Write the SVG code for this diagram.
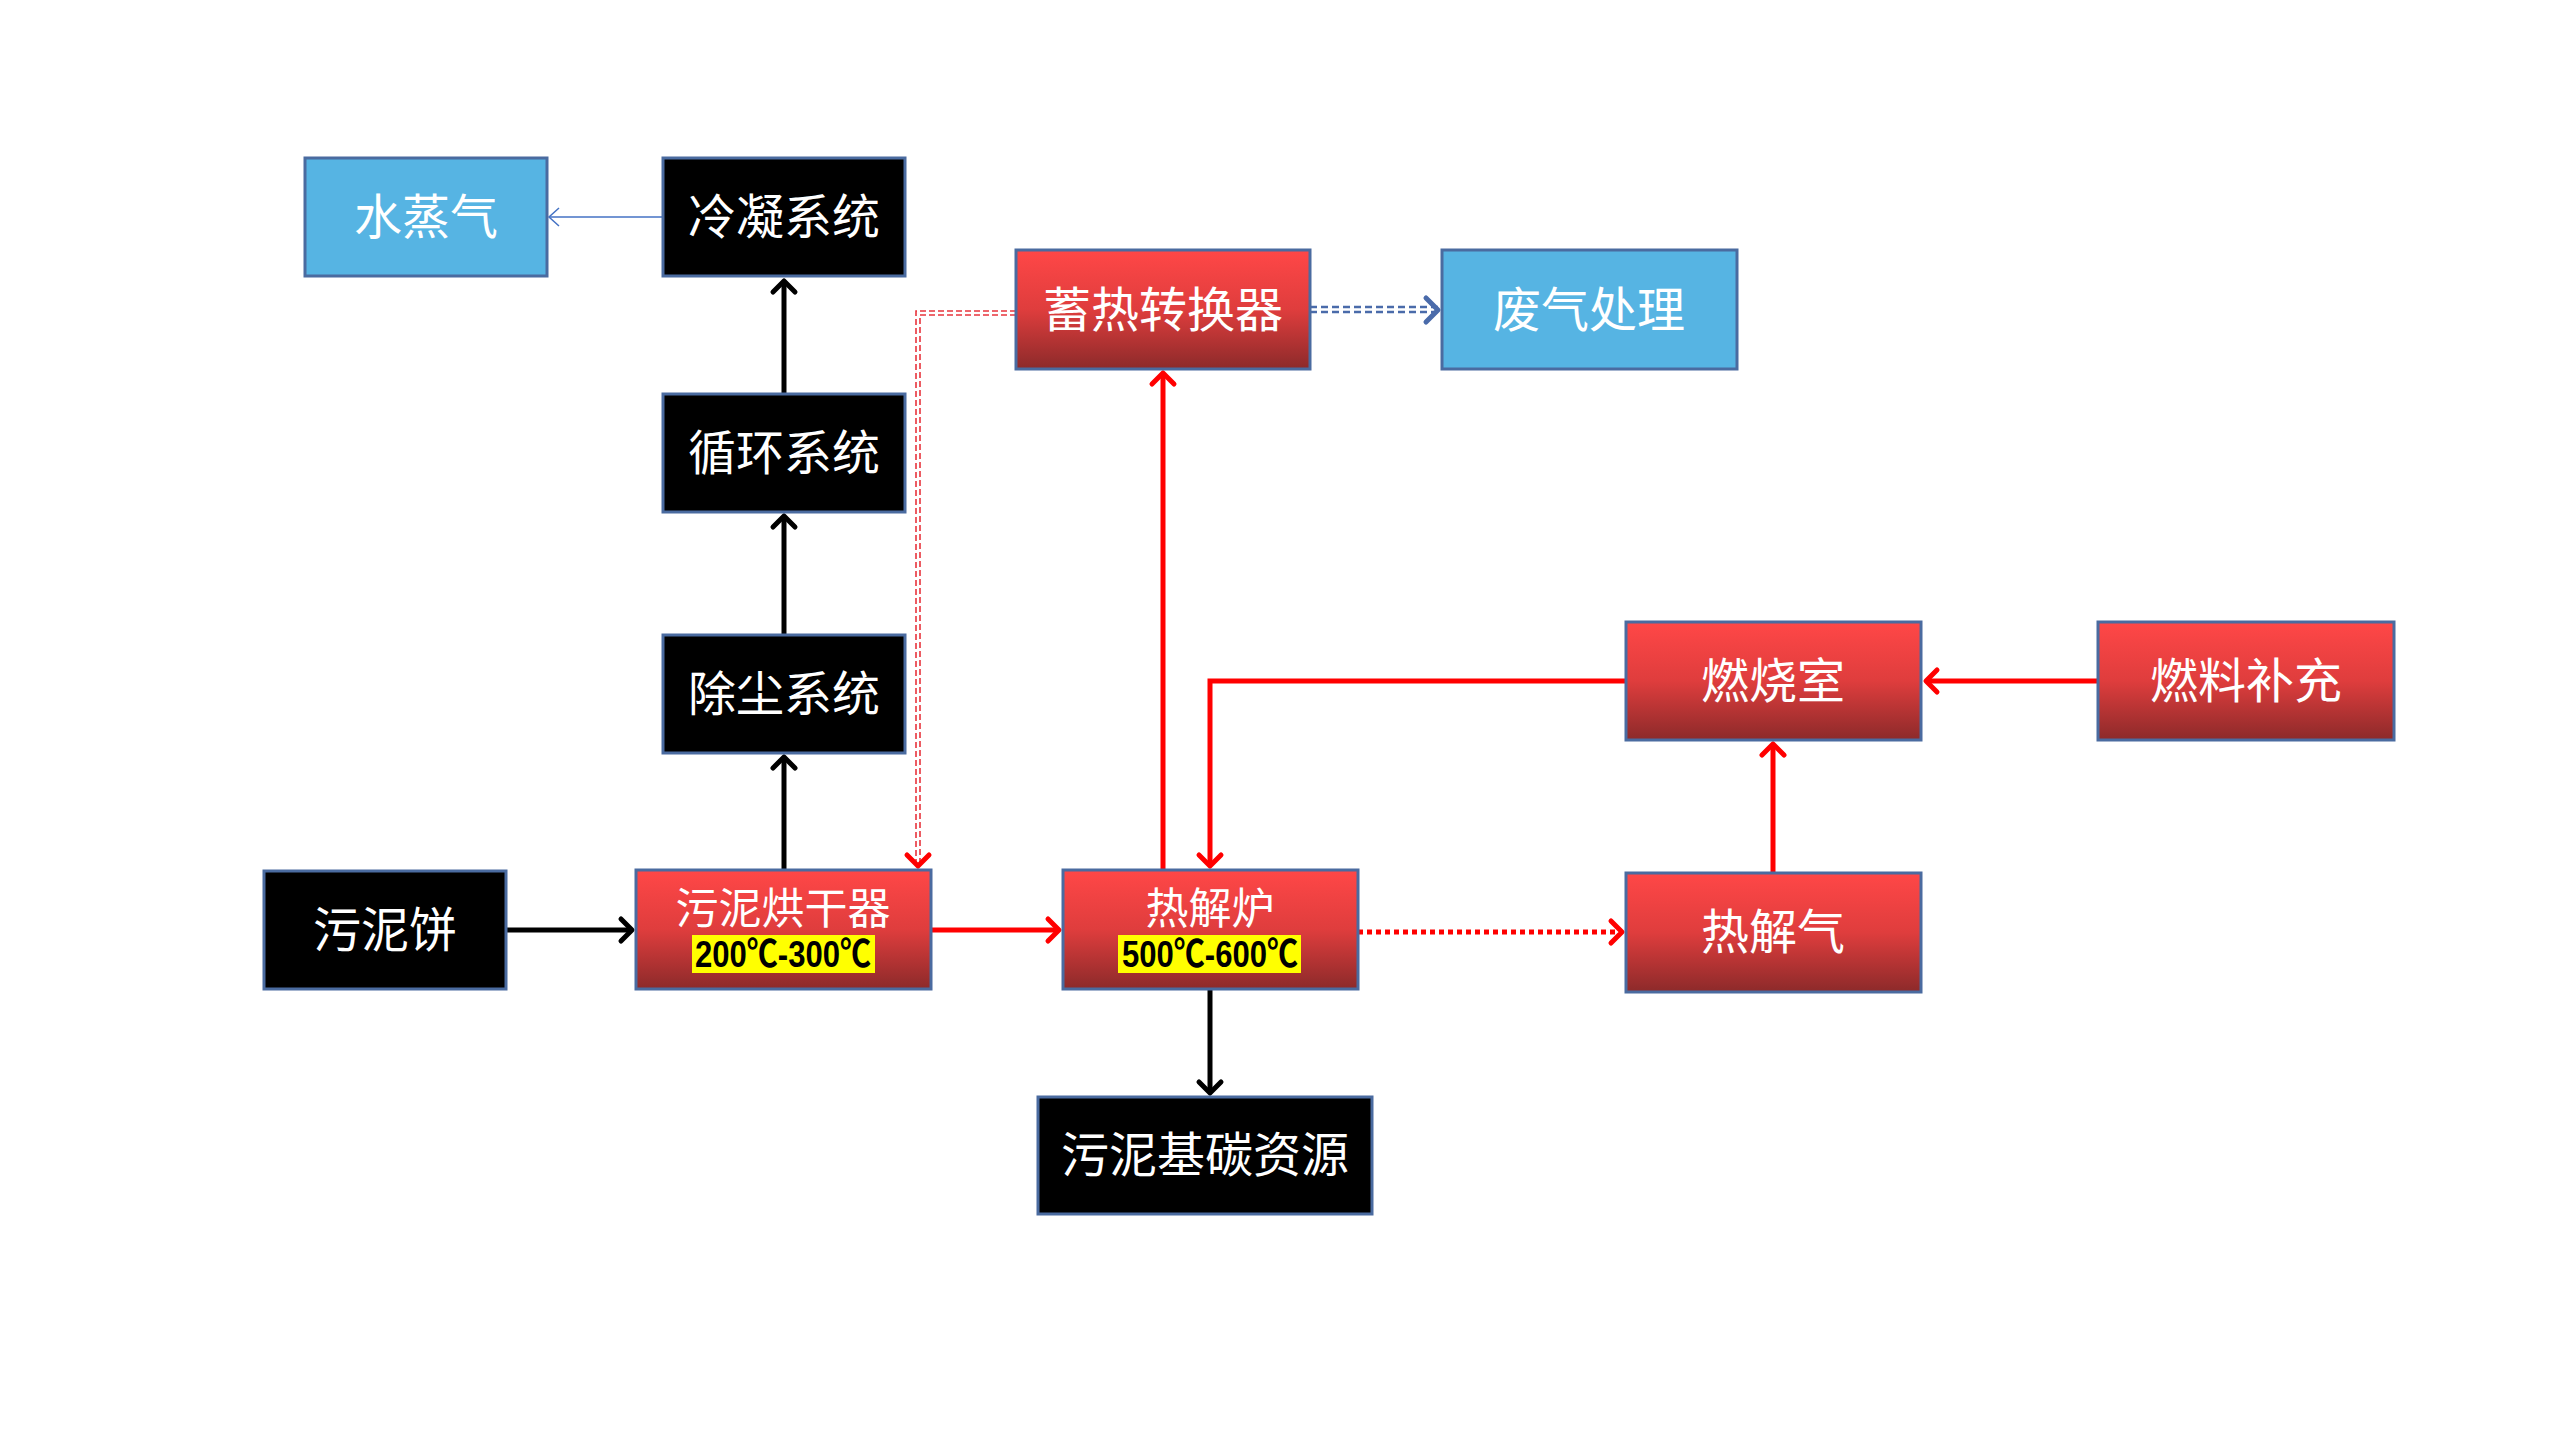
<svg xmlns="http://www.w3.org/2000/svg" width="2560" height="1440" viewBox="0 0 2560 1440">
<style>
.box{stroke:#4A6BA0;stroke-width:3}
.blk{fill:#000}
.blu{fill:#56B4E3}
.red{fill:url(#redGrad)}
.t{font-family:"Noto Sans CJK SC","Noto Sans CJK TC",sans-serif;font-size:48px;fill:#fff;text-anchor:middle}
.ts{font-size:43px}
.tmp{font-family:"Liberation Sans","Noto Sans CJK SC",sans-serif;font-weight:bold;font-size:37px;fill:#000;text-anchor:middle}
.yel{fill:#FFFF00}
.lb{fill:none;stroke:#000;stroke-width:5}
.lr{fill:none;stroke:#FF0000;stroke-width:5}
.lrd{fill:none;stroke:#FF0000;stroke-width:5;stroke-dasharray:5 4}
.lrt{fill:none;stroke:#E8343C;stroke-width:1.6;stroke-dasharray:6 3}
.lbt{fill:none;stroke:#4472C4;stroke-width:1.5}
.lbd{fill:none;stroke:#4A6BAA;stroke-width:2.5;stroke-dasharray:7 4}
</style>
<defs>
<linearGradient id="redGrad" x1="0" y1="0" x2="0" y2="1">
<stop offset="0" stop-color="#FF4747"/>
<stop offset="0.5" stop-color="#DF3D3D"/>
<stop offset="1" stop-color="#8C2A2A"/>
</linearGradient>
<marker id="aBlk" markerUnits="userSpaceOnUse" markerWidth="40" markerHeight="40" refX="0" refY="0" viewBox="-20 -20 40 40" orient="auto" overflow="visible">
<path d="M-11,-11 L0,0 L-11,11" fill="none" stroke="#000" stroke-width="5" stroke-linecap="round" stroke-linejoin="round"/>
</marker>
<marker id="aRed" markerUnits="userSpaceOnUse" markerWidth="40" markerHeight="40" refX="0" refY="0" viewBox="-20 -20 40 40" orient="auto" overflow="visible">
<path d="M-11,-11 L0,0 L-11,11" fill="none" stroke="#FF0000" stroke-width="5" stroke-linecap="round" stroke-linejoin="round"/>
</marker>
<marker id="aBluT" markerUnits="userSpaceOnUse" markerWidth="40" markerHeight="40" refX="0" refY="0" viewBox="-20 -20 40 40" orient="auto" overflow="visible">
<path d="M-10,-9 L0,0 L-10,9" fill="none" stroke="#4472C4" stroke-width="1.5"/>
</marker>
<marker id="aBluD" markerUnits="userSpaceOnUse" markerWidth="40" markerHeight="40" refX="0" refY="0" viewBox="-20 -20 40 40" orient="auto" overflow="visible">
<path d="M-12,-12 L0,0 L-12,12" fill="none" stroke="#4A6BAA" stroke-width="5" stroke-linecap="round" stroke-linejoin="round"/>
</marker>
</defs>
<rect width="2560" height="1440" fill="#fff"/>
<g id="connectors">
<line class="lbt" x1="663" y1="217" x2="549" y2="217" marker-end="url(#aBluT)"/>
<line class="lb" x1="784" y1="394" x2="784" y2="281" marker-end="url(#aBlk)"/>
<line class="lb" x1="784" y1="635" x2="784" y2="516" marker-end="url(#aBlk)"/>
<line class="lb" x1="784" y1="870" x2="784" y2="757" marker-end="url(#aBlk)"/>
<line class="lb" x1="506" y1="930" x2="632" y2="930" marker-end="url(#aBlk)"/>
<line class="lr" x1="931" y1="930" x2="1059" y2="930" marker-end="url(#aRed)"/>
<line class="lr" x1="1163" y1="870" x2="1163" y2="373" marker-end="url(#aRed)"/>
<polyline class="lr" points="1626,681 1210,681 1210,866" marker-end="url(#aRed)"/>
<line class="lr" x1="2098" y1="681" x2="1926" y2="681" marker-end="url(#aRed)"/>
<line class="lr" x1="1773" y1="873" x2="1773" y2="744" marker-end="url(#aRed)"/>
<line class="lrd" x1="1358" y1="932" x2="1622" y2="932" marker-end="url(#aRed)"/>
<polyline class="lrt" points="1016,311 916,311 916,866"/>
<polyline class="lrt" points="1016,315 920,315 920,866"/>
<line x1="918" y1="860" x2="918" y2="866" stroke="none" marker-end="url(#aRed)"/>
<line class="lbd" x1="1310" y1="307" x2="1438" y2="307"/>
<line class="lbd" x1="1310" y1="312" x2="1438" y2="312"/>
<line x1="1430" y1="310" x2="1438" y2="310" stroke="none" marker-end="url(#aBluD)"/>
<line class="lb" x1="1210" y1="989" x2="1210" y2="1093" marker-end="url(#aBlk)"/>
</g>
<g id="n-water"><rect class="box blu" x="305" y="158" width="242" height="118"/><text class="t" x="426" y="234">水蒸气</text></g>
<g id="n-condense"><rect class="box blk" x="663" y="158" width="242" height="118"/><text class="t" x="784" y="234">冷凝系统</text></g>
<g id="n-circ"><rect class="box blk" x="663" y="394" width="242" height="118"/><text class="t" x="784" y="470">循环系统</text></g>
<g id="n-dust"><rect class="box blk" x="663" y="635" width="242" height="118"/><text class="t" x="784" y="711">除尘系统</text></g>
<g id="n-cake"><rect class="box blk" x="264" y="871" width="242" height="118"/><text class="t" x="385" y="947">污泥饼</text></g>
<g id="n-dryer"><rect class="box red" x="636" y="870" width="295" height="119"/><text class="t ts" x="783" y="924">污泥烘干器</text><rect class="yel" x="692" y="935" width="183" height="38"/><text class="tmp" x="783" y="967" textLength="176" lengthAdjust="spacingAndGlyphs">200℃-300℃</text></g>
<g id="n-pyro"><rect class="box red" x="1063" y="870" width="295" height="119"/><text class="t ts" x="1210" y="924">热解炉</text><rect class="yel" x="1118" y="935" width="183" height="38"/><text class="tmp" x="1210" y="967" textLength="176" lengthAdjust="spacingAndGlyphs">500℃-600℃</text></g>
<g id="n-pgas"><rect class="box red" x="1626" y="873" width="295" height="119"/><text class="t" x="1773" y="949">热解气</text></g>
<g id="n-comb"><rect class="box red" x="1626" y="622" width="295" height="118"/><text class="t" x="1773" y="698">燃烧室</text></g>
<g id="n-fuel"><rect class="box red" x="2098" y="622" width="296" height="118"/><text class="t" x="2246" y="698">燃料补充</text></g>
<g id="n-regen"><rect class="box red" x="1016" y="250" width="294" height="119"/><text class="t" x="1163" y="327">蓄热转换器</text></g>
<g id="n-exhaust"><rect class="box blu" x="1442" y="250" width="295" height="119"/><text class="t" x="1589" y="327">废气处理</text></g>
<g id="n-carbon"><rect class="box blk" x="1038" y="1097" width="334" height="117"/><text class="t" x="1205" y="1172">污泥基碳资源</text></g>
</svg>
